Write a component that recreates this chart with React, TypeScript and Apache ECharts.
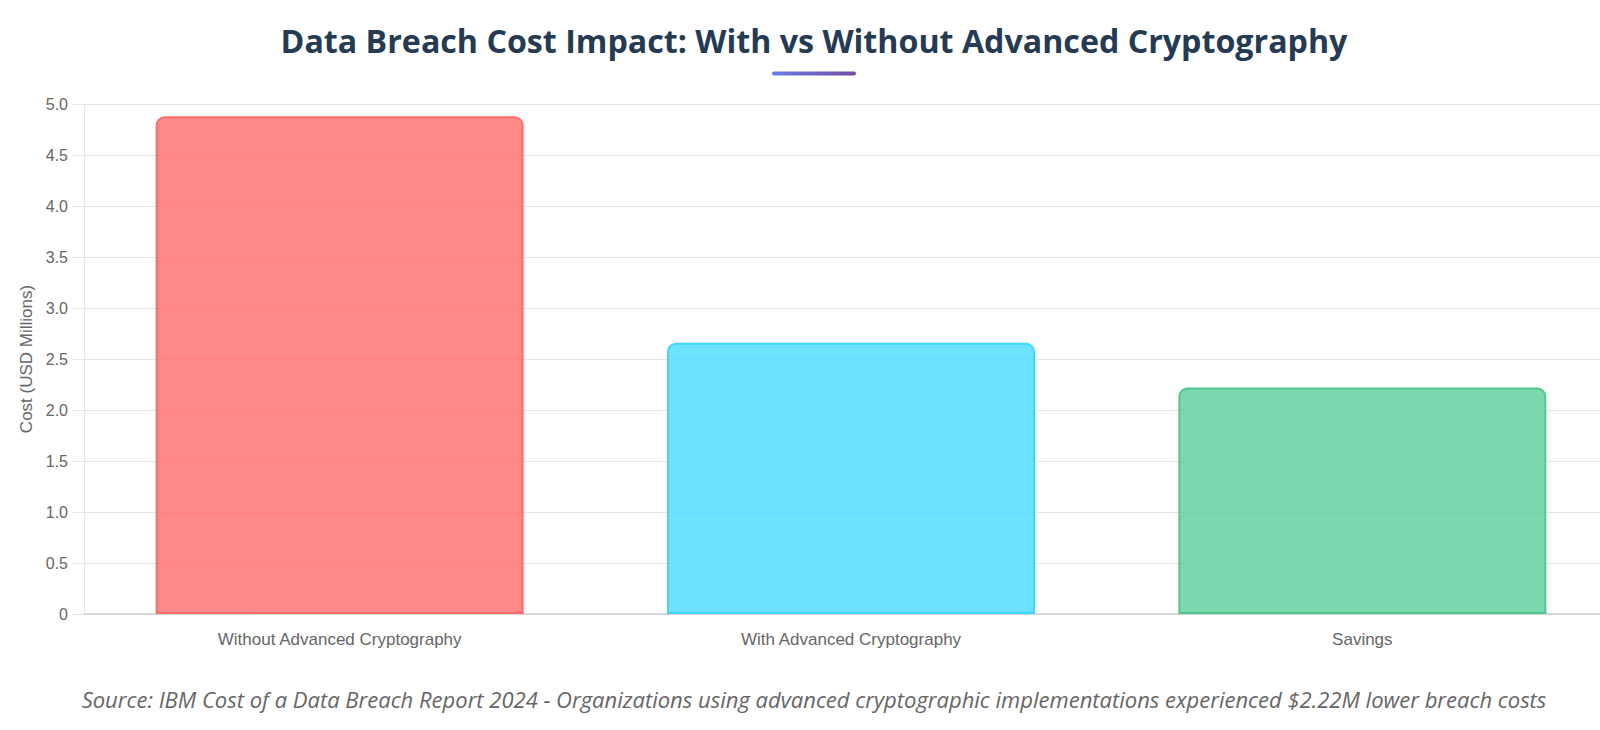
import React, { useEffect, useRef } from "react";
import * as echarts from "echarts";

const categories = ["Without Advanced Cryptography", "With Advanced Cryptography", "Savings"];
const costValues = [4.88, 2.66, 2.22];
const fillColors = ["rgba(255, 107, 107, 0.8)", "rgba(72, 219, 251, 0.8)", "rgba(90, 206, 155, 0.8)"];
const borderColors = ["#ff6b6b", "#3fd6f7", "#52c690"];
const titleText = "Data Breach Cost Impact: With vs Without Advanced Cryptography";
const sourceText =
  "Source: IBM Cost of a Data Breach Report 2024 - Organizations using advanced cryptographic implementations experienced $2.22M lower breach costs";
const yAxisName = "Cost (USD Millions)";

export default function App() {
  const ref = useRef<HTMLDivElement>(null);
  useEffect(() => {
    if (!ref.current) return;
    const chart = echarts.init(ref.current, undefined, { renderer: "svg" });
    chart.setOption({
      animation: false,
      backgroundColor: "#ffffff",
      grid: { left: 84, top: 104, width: 1534, height: 510, containLabel: false },
      xAxis: {
        type: "category",
        data: categories,
        axisLine: { show: true, lineStyle: { color: "#d0d0d0", width: 1.5 } },
        axisTick: { show: false },
        splitLine: { show: false },
        axisLabel: {
          color: "#666666",
          fontSize: 17,
          fontFamily: "Liberation Sans, Arial, sans-serif",
          margin: 17,
        },
      },
      yAxis: {
        type: "value",
        min: 0,
        max: 5,
        interval: 0.5,
        name: yAxisName,
        nameLocation: "middle",
        nameRotate: 90,
        nameGap: 49,
        nameTextStyle: { color: "#666666", fontSize: 17, fontFamily: "Liberation Sans, Arial, sans-serif" },
        axisLine: { show: true, lineStyle: { color: "#e5e5e5" } },
        axisTick: { show: true, length: 11, lineStyle: { color: "#e5e5e5" } },
        splitLine: { show: true, lineStyle: { color: "#e5e5e5" } },
        axisLabel: {
          color: "#666666",
          fontSize: 16,
          fontFamily: "Liberation Sans, Arial, sans-serif",
          margin: 16,
          formatter: (v: number) => (v === 0 ? "0" : v.toFixed(1)),
        },
      },
      series: [
        {
          type: "bar",
          barWidth: 368,
          data: costValues.map((v, i) => ({
            value: v,
            itemStyle: {
              color: fillColors[i],
              borderColor: borderColors[i],
              borderWidth: 2,
              borderRadius: [8, 8, 0, 0],
            },
          })),
        },
      ],
      graphic: [
        {
          type: "text",
          x: 814,
          y: 40,
          style: {
            text: titleText,
            fill: "#243b53",
            font: "bold 32.2px 'Open Sans', 'Noto Sans', sans-serif",
            textAlign: "center",
            textVerticalAlign: "middle",
          },
        },
        {
          type: "rect",
          shape: { x: 772, y: 71.5, width: 84, height: 4, r: 2 },
          style: {
            fill: new echarts.graphic.LinearGradient(0, 0, 1, 0, [
              { offset: 0, color: "#667eea" },
              { offset: 1, color: "#764ba2" },
            ]),
          },
        },
        {
          type: "text",
          x: 814,
          y: 699,
          style: {
            text: sourceText,
            fill: "#666666",
            font: "italic 22px 'Open Sans', 'Noto Sans', sans-serif",
            textAlign: "center",
            textVerticalAlign: "middle",
          },
        },
      ],
    });
    return () => chart.dispose();
  }, []);
  return (
    <div
      ref={ref}
      style={{ position: "fixed", left: 0, top: 0, width: 1640, height: 730, background: "#fff" }}
    />
  );
}
